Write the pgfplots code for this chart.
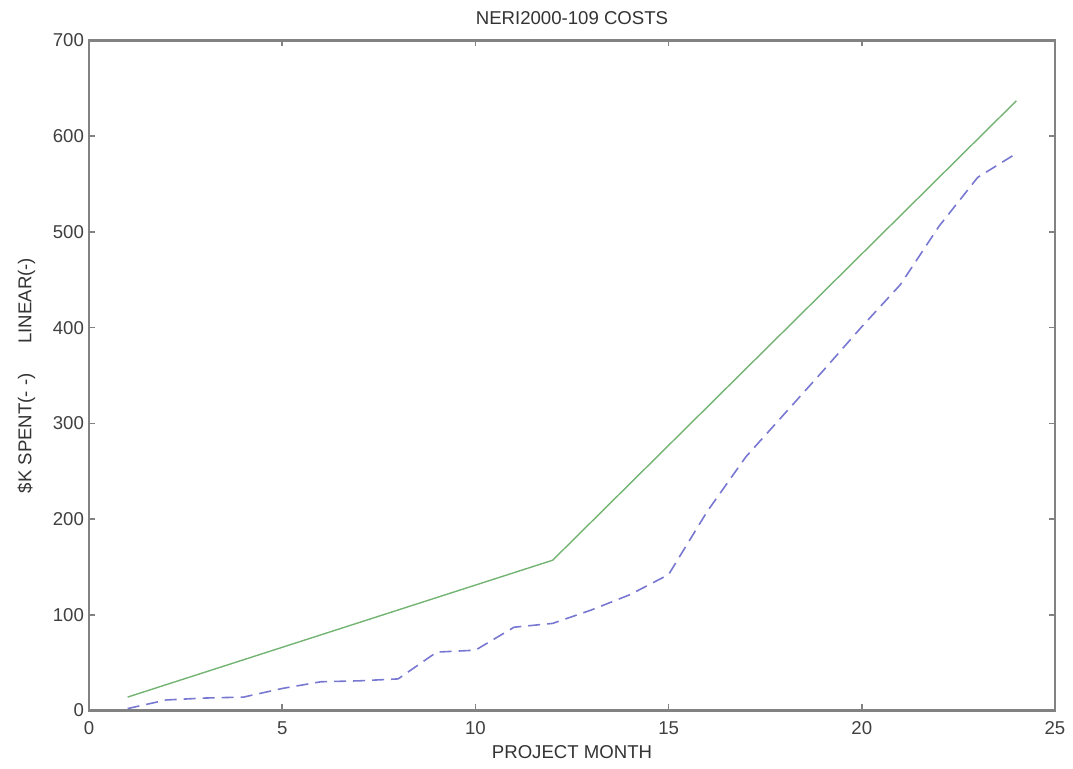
\documentclass[border=0pt]{standalone}
\usepackage{pgfplots}
\pgfplotsset{compat=1.18}
\usepackage{fontspec}
\setmainfont{Liberation Sans}
\definecolor{axgray}{RGB}{130,130,130}
\definecolor{lgreen}{RGB}{115,180,115}
\definecolor{lblue}{RGB}{120,120,210}
\begin{document}
\begin{tikzpicture}
\begin{axis}[
  scale only axis,
  width=483pt, height=335pt,
  xmin=0, xmax=25, ymin=0, ymax=700,
  xtick={0,5,10,15,20,25},
  ytick={0,100,200,300,400,500,600,700},
  tick align=inside,
  major tick length=3pt,
  axis line style={axgray, line width=1.1pt},
  every tick/.style={axgray, line width=0.8pt},
  tick label style={font=\fontsize{9.3}{11}\selectfont, text=black!75},
  xticklabel style={yshift=-2pt},
  yticklabel style={xshift=1pt},
  /pgf/number format/assume math mode=true,
  title={NERI2000-109 COSTS},
  title style={font=\fontsize{9.3}{11}\selectfont, text=black!80, yshift=-1.5pt},
  xlabel={PROJECT MONTH},
  xlabel style={font=\fontsize{9.3}{11}\selectfont, text=black!80, yshift=1.5pt},
  ylabel={\$K SPENT(- -)\hspace{1.6em}LINEAR(-)},
  ylabel style={font=\fontsize{9.3}{11}\selectfont, text=black!80, yshift=2pt},
]
\addplot[lgreen, line width=0.7pt] coordinates {
(1,14)(2,27)(3,40)(4,53)(5,66)(6,79)(7,92)(8,105)(9,118)(10,131)(11,144)(12,157)
(13,197)(14,237)(15,277)(16,317)(17,357)(18,397)(19,437)(20,477)(21,517)(22,557)(23,597)(24,637)
};
\addplot[lblue, line width=0.8pt, dash pattern=on 6pt off 3.5pt] coordinates {
(1,2)(2,11)(3,13)(4,14)(5,23)(6,30)(7,31)(8,33)(9,61)(10,63)(11,87)(12,91)
(13,105)(14,121)(15,142)(16,208)(17,265)(18,310)(19,355)(20,401)(21,445)(22,506)(23,557)(24,582)
};
\end{axis}
\pgfresetboundingbox
\path[use as bounding box] ([xshift=-44.5pt,yshift=-29.25pt]current axis.south west) rectangle ([xshift=492pt,yshift=355.25pt]current axis.south west);
\end{tikzpicture}
\end{document}
